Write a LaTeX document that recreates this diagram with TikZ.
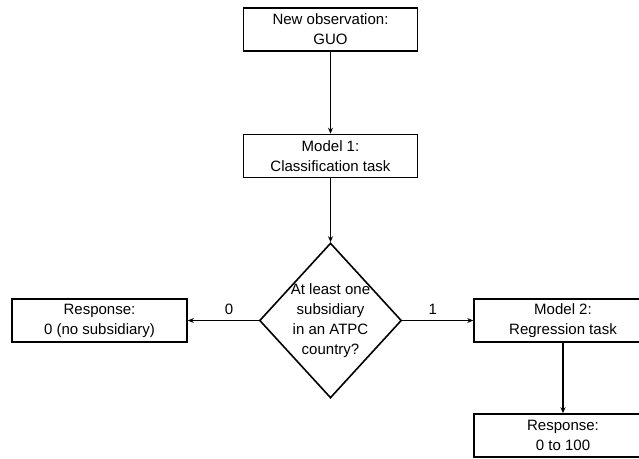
\documentclass[tikz,border=0pt]{standalone}
\usepackage{fontspec}
\setmainfont{Liberation Sans}
\usetikzlibrary{shapes.geometric}
\usetikzlibrary{arrows.meta}

\begin{document}
\begin{tikzpicture}[x=1pt,y=-1pt,
  stepbox/.style={draw, line width=1.6pt, minimum width=174pt, minimum height=43pt, inner sep=0pt, align=center, font=\fontsize{15}{20}\selectfont},
  flow/.style={line width=1.3pt, -{Stealth[length=6pt,width=5pt]}},
  lab/.style={font=\fontsize{15}{18}\selectfont, above=2pt}]
\useasboundingbox (0,0) rectangle (639,458);
\node[stepbox] (obs) at (330.5,29.5) {New observation:\\GUO};
\node[stepbox] (model1) at (330.5,156) {Model 1:\\Classification task};
\node[draw, diamond, line width=1.6pt, minimum width=142pt, minimum height=155pt, inner sep=0pt] (check) at (330.5,320.5) {};
\node[align=center, font=\fontsize{15}{20}\selectfont] (checktext) at (330.5,320.5) {At least one\\subsidiary\\in an ATPC\\country?};
\node[stepbox, minimum width=175pt] (resp0) at (99.5,320.5) {Response:\\0 (no subsidiary)};
\node[stepbox, minimum width=178pt] (model2) at (563,320.5) {Model 2:\\Regression task};
\node[stepbox, minimum width=178pt] (resp100) at (563,435.5) {Response:\\0 to 100};
\draw[flow] (obs) -- (model1);
\draw[flow] (model1) -- (check.north);
\draw[flow] (check.west) -- node[lab, pos=0.42] (zero) {0} (resp0.east);
\draw[flow] (check.east) -- node[lab, pos=0.43] (one) {1} (model2.west);
\draw[flow] (model2) -- (resp100);
\end{tikzpicture}
\end{document}
